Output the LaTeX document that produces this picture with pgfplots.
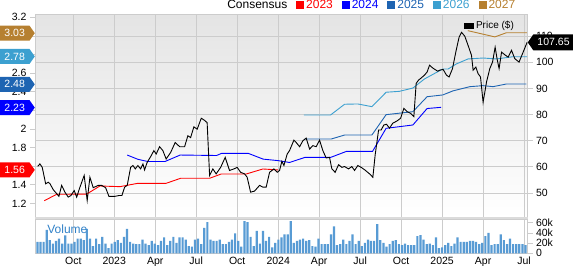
\documentclass[border=0pt]{standalone}
\usepackage{pgfplots}
\pgfplotsset{compat=1.18}
\usepackage{pgfplotstable}
\usepackage{fontspec}
\setmainfont{Liberation Sans}
\usetikzlibrary{shapes.symbols}

\definecolor{c23}{RGB}{255,0,0}
\definecolor{c24}{RGB}{0,0,255}
\definecolor{c25}{RGB}{30,100,178}
\definecolor{c26}{RGB}{60,160,208}
\definecolor{c27}{RGB}{182,128,48}
\definecolor{gridc}{RGB}{204,204,204}
\definecolor{volc}{RGB}{88,155,212}
\definecolor{voltxt}{RGB}{50,130,200}
\definecolor{bgtop}{RGB}{228,228,228}

\pgfplotstableread{
x y
-5.60 60.2
-5.44 61.1
-5.27 59.8
-5.02 53.5
-4.83 54.1
-4.70 53.5
-4.46 51.2
-4.21 49.7
-4.05 48.7
-3.85 52.9
-3.61 50.3
-3.37 48.4
-3.17 49.0
-2.93 50.9
-2.75 48.4
-2.51 52.2
-2.20 56.7
-1.98 47.1
-1.78 56.0
-1.54 52.0
-1.17 52.9
-0.92 52.9
-0.63 52.0
-0.39 48.7
0.05 48.7
0.34 49.0
0.56 49.0
0.76 52.2
0.95 52.9
1.20 59.8
1.37 60.5
1.54 59.2
1.73 60.5
1.93 59.2
2.10 61.1
2.22 58.8
2.41 61.7
2.71 64.3
2.90 66.2
3.07 64.9
3.32 67.7
3.56 66.2
3.80 63.0
4.13 65.5
4.46 69.3
4.79 67.7
5.15 67.7
5.39 71.9
5.59 71.2
5.83 75.3
6.07 74.4
6.37 78.6
6.61 77.8
6.80 76.9
6.98 56.7
7.22 59.2
7.46 57.3
7.79 59.8
8.12 63.6
8.44 58.6
8.76 59.2
9.00 59.8
9.25 57.9
9.54 57.3
9.73 56.0
9.98 50.3
10.27 50.7
10.64 52.9
10.88 52.2
11.12 52.2
11.37 57.9
11.69 59.2
11.93 57.9
12.10 58.6
12.27 62.1
12.42 60.5
12.66 64.9
12.83 66.2
13.15 70.2
13.32 69.3
13.57 67.7
13.81 70.0
14.05 71.0
14.30 66.8
14.54 68.1
14.78 67.7
15.03 70.2
15.27 66.2
15.51 63.4
15.76 63.6
15.93 59.2
16.17 57.9
16.42 60.8
16.66 59.8
16.86 60.1
17.15 59.2
17.39 60.1
17.59 58.6
17.83 60.5
18.07 59.8
18.32 58.9
18.69 57.3
18.93 56.0
19.10 64.6
19.35 74.1
19.54 74.1
19.73 76.0
19.93 76.3
20.15 74.8
20.39 76.7
20.71 77.6
20.96 78.6
21.20 82.4
21.44 81.1
21.69 80.5
21.93 79.2
22.10 91.9
22.27 93.2
22.42 93.8
22.71 95.1
22.90 96.3
23.08 98.9
23.32 97.8
23.68 96.6
23.83 97.0
24.07 97.3
24.32 95.1
24.51 94.4
24.76 97.6
25.00 103.9
25.24 109.6
25.42 111.5
25.66 110.0
25.90 106.5
26.15 102.7
26.27 97.0
26.47 98.2
26.63 95.7
26.81 94.4
27.00 84.7
27.25 92.5
27.49 97.6
27.69 100.1
27.88 105.8
28.02 101.4
28.17 97.6
28.35 103.9
28.59 102.9
28.83 102.0
29.08 104.6
29.32 101.4
29.63 100.1
29.93 103.9
30.22 107.65
}\price

\pgfplotstableread{
x y
-5.12 1.229
-4.21 1.298
-2.02 1.300
-1.05 1.387
0.42 1.380
1.73 1.416
3.80 1.416
4.86 1.470
6.98 1.470
7.83 1.516
9.66 1.516
10.88 1.570
11.98 1.560
}\cA

\pgfplotstableread{
x y
0.95 1.720
1.73 1.674
2.47 1.650
3.71 1.650
4.83 1.720
7.49 1.715
7.86 1.738
9.81 1.738
10.90 1.676
11.98 1.660
12.83 1.640
13.95 1.694
15.83 1.694
17.01 1.760
18.91 1.760
19.90 2.007
21.86 2.043
22.90 2.220
23.93 2.233
}\cB

\pgfplotstableread{
x y
13.95 1.892
15.88 1.892
16.86 1.935
18.86 1.935
19.90 2.154
21.86 2.186
22.90 2.347
24.05 2.366
24.80 2.410
26.03 2.455
27.00 2.466
27.73 2.455
28.71 2.484
30.17 2.484
}\cC

\pgfplotstableread{
x y
13.88 2.150
15.83 2.150
16.86 2.266
17.83 2.269
18.86 2.240
19.90 2.395
20.88 2.405
21.86 2.440
22.71 2.538
24.05 2.645
24.44 2.645
25.05 2.700
25.90 2.753
27.00 2.763
27.98 2.753
29.19 2.777
30.22 2.777
}\cD

\pgfplotstableread{
x y
25.88 3.057
27.86 2.990
28.71 3.035
30.20 3.035
}\cE

\pgfplotstableread{
v
22.6
22.6
22.6
46
26
19
24.5
29
19
35
19
19
22.6
29
29
26
48
29
14
29
18
32
19
10
19
22.6
26
20.6
32
48
22.6
19
18
18
27
19
16
24.5
19
16
24.5
31
16
24.5
32
20.6
31
31
27
14
13
27
29
18
50
61
27
24.5
24.5
27
18
18
22.6
27
39
24.5
13
63
61
32
14
44
19
44
24.5
32
11.6
20.6
27
31
37
37
63
20.6
24.5
27
29
24.5
26
14
13
29
18
18
18
37
53
16
18
27
18
24.5
37
18
24.5
14
20.6
27
24.5
24.5
57
26
20.6
13
18
24.5
26
18
16
19
16
16
16
33.5
35.5
27
18
19
16
31
10
11.6
16
20.6
14
19
31
22.6
22.6
22.6
24.5
24.5
22.6
18
20.6
33.5
40
16
18
18
37
26
18
29
18
18
18
18
16
}\vol

\begin{document}
\begin{tikzpicture}
\useasboundingbox (0,0) rectangle (573bp,266bp);
\pgfplotsset{
  base/.style={scale only axis, width=492.5bp, xmin=-5.8, xmax=30.25,
    anchor=south west,
    tick label style={font=\fontsize{10.5bp}{12bp}\selectfont},
    /pgf/number format/assume math mode=true,
    major tick length=5bp, tick align=outside,
    tick style={gridc, line width=0.8bp},
    axis line style={gridc, line width=0.8bp},
    grid style={gridc, line width=0.8bp},
    xtick={-3,0,3,6,9,12,15,18,21,24,27,30},
  },
}
% price base: background, grid, right ticks
\begin{axis}[base, at={(35bp,48bp)}, height=203.7bp,
  ymin=40.4, ymax=118.4,
  axis background/.style={top color=bgtop, bottom color=white},
  xticklabels={}, xtick style={draw=none},
  xmajorgrids, ymajorgrids,
  ytick={50,60,70,80,90,100,110}, ytick pos=right]
\end{axis}
% consensus
\begin{axis}[base, at={(35bp,48bp)}, height=203.7bp,
  ymin=1.043, ymax=3.233, clip=false,
  axis line style={draw=none},
  xtick=\empty, ytick pos=left,
  ytick={1.2,1.4,1.6,1.8,2,2.2,2.4,2.6,2.8,3,3.2},
  yticklabels={1.2,1.4,,1.8,2,,2.4,2.6,,,3.2},
  legend style={at={(0.386,1.046)}, anchor=west, draw=none, fill=none,
    legend columns=-1, inner sep=0pt,
    font=\fontsize{12bp}{14bp}\selectfont,
    /tikz/every even column/.append style={column sep=7bp}},
  legend image code/.code={\fill[#1] (0bp,-3.5bp) rectangle (7bp,3.5bp);},
  ]
\addlegendimage{empty legend}\addlegendentry{Consensus}
\addplot[color=c23, line width=0.9bp] table[x=x,y=y] \cA;
\addlegendentry{\textcolor{c23}{2023}}
\addplot[color=c24, line width=0.9bp] table[x=x,y=y] \cB;
\addlegendentry{\textcolor{c24}{2024}}
\addplot[color=c25, line width=0.9bp] table[x=x,y=y] \cC;
\addlegendentry{\textcolor{c25}{2025}}
\addplot[color=c26, line width=0.9bp] table[x=x,y=y] \cD;
\addlegendentry{\textcolor{c26}{2026}}
\addplot[color=c27, line width=0.9bp] table[x=x,y=y] \cE;
\addlegendentry{\textcolor{c27}{2027}}
\coordinate (t27) at (axis cs:-5.8,3.03);
\coordinate (t26) at (axis cs:-5.8,2.78);
\coordinate (t25) at (axis cs:-5.8,2.48);
\coordinate (t24) at (axis cs:-5.8,2.23);
\coordinate (t23) at (axis cs:-5.8,1.56);
\end{axis}
% price line
\begin{axis}[base, at={(35bp,48bp)}, height=203.7bp,
  ymin=40.4, ymax=118.4, hide axis, clip=false,
  legend style={at={(0.871,0.9426)}, anchor=west, draw=none, fill=none,
    inner sep=0pt, font=\fontsize{10bp}{12bp}\selectfont},
  legend image code/.code={\fill[black] (0bp,-2.5bp) rectangle (9bp,2.5bp);},
  ]
\addplot[black, line width=0.9bp] table[x=x,y=y] \price;
\addlegendentry{Price (\$)}
\coordinate (tp) at (axis cs:30.25,107.65);
\end{axis}
% volume
\begin{axis}[base, at={(35bp,12.7bp)}, height=33.8bp,
  ymin=0, ymax=66.3, ybar, bar width=0.16,
  xticklabels={Oct,2023,Apr,Jul,Oct,2024,Apr,Jul,Oct,2025,Apr,Jul},
  xtick align=inside,
  xticklabel style={inner sep=0bp, anchor=north, yshift=-3.4bp},
  xtick style={draw=none}, xmajorgrids,
  ytick={0,20,40,60}, yticklabels={0,20k,40k,60k}, ytick pos=right]
\addplot[fill=volc, draw=none] table[x expr=\coordindex*0.2261-5.62, y=v] \vol;
\node[anchor=west, text=voltxt, font=\fontsize{12bp}{14bp}\selectfont] at (rel axis cs:0.018,0.72) {Volume};
\end{axis}
% separator
\fill[gridc!70] (35bp,46.6bp) rectangle (527.5bp,48.8bp);
% tags
\tikzset{tagL/.style={shape=signal, signal to=east, signal pointer angle=110,
  anchor=east, text=white, font=\fontsize{10.5bp}{12bp}\selectfont,
  inner xsep=2bp, inner ysep=1bp, minimum height=15bp, minimum width=35bp}}
\node[tagL, fill=c27] at (t27) {3.03};
\node[tagL, fill=c26] at (t26) {2.78};
\node[tagL, fill=c25] at (t25) {2.48};
\node[tagL, fill=c24] at (t24) {2.23};
\node[tagL, fill=c23] at (t23) {1.56};
\node[shape=signal, signal to=west, signal pointer angle=110, anchor=west,
  fill=black, text=white, font=\fontsize{10.5bp}{12bp}\selectfont,
  inner xsep=2bp, inner ysep=1bp, minimum height=16bp, minimum width=46bp] at (tp) {107.65};
\end{tikzpicture}
\end{document}
